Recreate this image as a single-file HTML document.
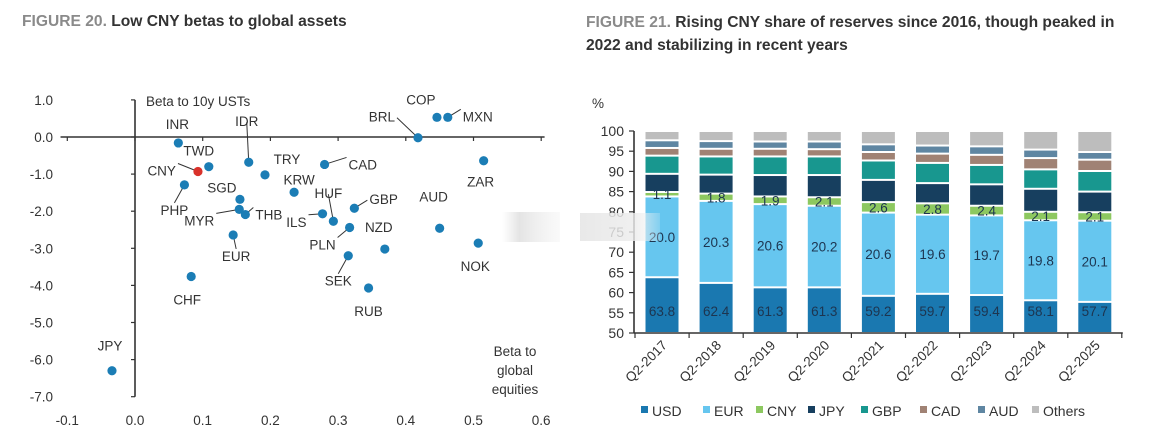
<!DOCTYPE html>
<html><head><meta charset="utf-8"><style>
html,body{margin:0;padding:0;background:#fff;}
svg{display:block;font-family:"Liberation Sans",sans-serif;}
</style></head><body>
<svg id="root" width="1170" height="446" viewBox="0 0 1170 446">
<defs>
<linearGradient id="blur1" x1="0" x2="1"><stop offset="0" stop-color="#e8e8e8" stop-opacity="0"/><stop offset="0.3" stop-color="#e4e4e4"/><stop offset="1" stop-color="#f2f2f2" stop-opacity="0.4"/></linearGradient>
<linearGradient id="blur2" x1="0" x2="1"><stop offset="0" stop-color="#e6e6e6" stop-opacity="0.9"/><stop offset="0.7" stop-color="#ececec" stop-opacity="0.8"/><stop offset="1" stop-color="#f4f4f4" stop-opacity="0.2"/></linearGradient>
</defs>
<text x="22" y="26" font-size="15.6" font-weight="bold"><tspan fill="#8a8a8a">FIGURE 20.</tspan><tspan fill="#333"> Low CNY betas to global assets</tspan></text>
<text x="586" y="27" font-size="15.6" font-weight="bold"><tspan fill="#8a8a8a">FIGURE 21.</tspan><tspan fill="#333"> Rising CNY share of reserves since 2016, though peaked in</tspan></text>
<text x="586" y="50" font-size="15.6" font-weight="bold" fill="#333">2022 and stabilizing in recent years</text>
<g id="scatter"></g>
<g id="bars"></g>
<rect x="502" y="212" width="58" height="30" fill="url(#blur1)"/>
<rect x="580" y="213" width="80" height="28" fill="url(#blur2)"/>
</svg>
<script>
// ---- Scatter data ----
const codes = ["INR","TWD","CNY","PHP","IDR","TRY","SGD","MYR","THB","EUR","CHF","JPY","KRW","CAD","HUF","ILS","GBP","PLN","SEK","NZD","RUB","BRL","COP","MXN","ZAR","AUD","NOK"];
const betaEq = [0.064,0.109,0.093,0.073,0.168,0.192,0.155,0.154,0.163,0.145,0.083,-0.034,0.235,0.280,0.293,0.277,0.324,0.317,0.315,0.369,0.345,0.418,0.446,0.462,0.515,0.450,0.507];
const betaUst = [-0.16,-0.80,-0.93,-1.29,-0.68,-1.02,-1.68,-1.95,-2.09,-2.64,-3.76,-6.30,-1.49,-0.74,-2.27,-2.07,-1.92,-2.44,-3.20,-3.02,-4.07,-0.02,0.53,0.53,-0.64,-2.46,-2.86];
const xTicks = [-0.1,0,0.1,0.2,0.3,0.4,0.5,0.6];
const yTicks = [1,0,-1,-2,-3,-4,-5,-6,-7];
const labelPos = {
 INR:[-1,-14,"middle",0],TWD:[-10,-11,"middle",0],CNY:[-22,4,"end",1],PHP:[-10,30,"middle",1],
 IDR:[-2,-36,"middle",1],TRY:[22,-11,"middle",0],SGD:[-18,-7,"middle",0],MYR:[-25,16,"end",1],
 THB:[10,5,"start",1],EUR:[3,26,"middle",1],CHF:[-4,28,"middle",0],JPY:[-2,-20,"middle",0],
 KRW:[5,-8,"middle",0],CAD:[24,5,"start",1],HUF:[-5,-23,"middle",1],ILS:[-16,13,"end",1],
 GBP:[15,-4,"start",1],PLN:[-14,22,"end",1],SEK:[-10,30,"middle",1],NZD:[-6,-17,"middle",0],
 RUB:[0,28,"middle",0],BRL:[-23,-16,"end",1],COP:[-16,-13,"middle",0],MXN:[15,4,"start",1],
 ZAR:[-3,26,"middle",0],AUD:[-6,-27,"middle",0],NOK:[-3,28,"middle",0]};
const NS="http://www.w3.org/2000/svg";
function mk(tag,attrs,parent){const e=document.createElementNS(NS,tag);for(const k in attrs)e.setAttribute(k,attrs[k]);parent.appendChild(e);return e;}
const sx = v => 135 + v*677;
const sy = v => 137 - v*37.1;
const sc = document.getElementById('scatter');
let ax = mk('line',{x1:sx(-0.11),x2:sx(0.605),y1:sy(0),y2:sy(0),stroke:'#333','stroke-width':1.6},sc);


let ay = mk('line',{x1:sx(0),x2:sx(0),y1:sy(1),y2:sy(-7),stroke:'#333','stroke-width':1.6},sc);


xTicks.forEach(t=>{
 const tk=mk('line',{x1:sx(t),x2:sx(t),y1:sy(0),y2:sy(0)+4,stroke:'#333','stroke-width':1.2},sc);
 
 
 const tl=mk('text',{x:sx(t),y:425,'font-size':13.5,'text-anchor':'middle',fill:'#333'},sc);
 tl.textContent=t.toFixed(1);
 
 
});
yTicks.forEach(t=>{
 const tk=mk('line',{x1:sx(0)-4,x2:sx(0),y1:sy(t),y2:sy(t),stroke:'#333','stroke-width':1.2},sc);
 
 
 const tl=mk('text',{x:53,y:sy(t)+5,'font-size':13.5,'text-anchor':'end',fill:'#333'},sc);
 tl.textContent=t.toFixed(1);
 
 
});
let t1=mk('text',{x:146,y:106,'font-size':13.5,fill:'#333'},sc);t1.textContent='Beta to 10y USTs';


['Beta to','global','equities'].forEach((s,i)=>{
 const t=mk('text',{x:515,y:356+i*19,'font-size':13.5,'text-anchor':'middle',fill:'#333'},sc);t.textContent=s;
 
 
});
codes.forEach((c,i)=>{
 const px=sx(betaEq[i]),py=sy(betaUst[i]);
 const p=labelPos[c];
 const lx=px+p[0],ly=py+p[1];
 if(p[3]){
  const ll=mk('line',{x1:px,y1:py,x2:lx+(p[2]==='end'?2:p[2]==='start'?-2:0),y2:ly+(p[1]>0?-12:-4),stroke:'#333','stroke-width':1},sc);
  
  
 }
 const d=mk('circle',{cx:px,cy:py,r:4.6,fill:c==='CNY'?'#d9322b':'#1b7db5'},sc);
 
 
 const t=mk('text',{x:lx,y:ly,'font-size':13.5,'text-anchor':p[2],fill:'#333'},sc);
 t.textContent=c;
 
 
});

// ---- Stacked bar data ----
const years = ["Q2-2017","Q2-2018","Q2-2019","Q2-2020","Q2-2021","Q2-2022","Q2-2023","Q2-2024","Q2-2025"];
const usd = [63.8,62.4,61.3,61.3,59.2,59.7,59.4,58.1,57.7];
const eur = [20.0,20.3,20.6,20.2,20.6,19.6,19.7,19.8,20.1];
const cny = [1.1,1.8,1.9,2.1,2.6,2.8,2.4,2.1,2.1];
const jpy = [4.5,4.7,5.3,5.5,5.5,5.0,5.3,5.7,5.1];
const gbp = [4.5,4.5,4.6,4.6,4.8,5.0,4.8,4.8,5.1];
const cad = [1.9,1.9,1.9,1.8,2.1,2.3,2.5,2.8,2.8];
const aud = [1.9,1.9,1.8,1.9,1.9,2.0,2.1,2.1,1.9];
const others = [2.3,2.5,2.6,2.6,3.3,3.6,3.8,4.6,5.2];
const seriesNames = ["USD","EUR","CNY","JPY","GBP","CAD","AUD","Others"];
const barTicks = [50,55,60,65,70,75,80,85,90,95,100];
const series=[usd,eur,cny,jpy,gbp,cad,aud,others];
const colors=['#1a78b0','#66c6ef','#8dc860','#173f5f','#18978f','#a08274','#5f86a2','#bdbdbd'];
const bx = i => 662 + i*54.1;
const by = v => 333 - (v-50)*4.04;
const bg=document.getElementById('bars');
let pct=mk('text',{x:592,y:108,'font-size':13.5,fill:'#333'},bg);pct.textContent='%';


barTicks.forEach(t=>{
 const tl=mk('text',{x:624,y:by(t)+5,'font-size':14,'text-anchor':'end',fill:'#333'},bg);
 tl.textContent=t;
 
 
 const tk=mk('line',{x1:629,x2:634,y1:by(t),y2:by(t),stroke:'#333','stroke-width':1.2},bg);
 
 
});
years.forEach((y,i)=>{
 let base=0;
 series.forEach((s,k)=>{
  const v=s[i];
  const lo=Math.max(base,50), hi=Math.min(base+v,100);
  base+=v;
  if(hi<=50)return;
  const top=by(hi), bot=by(lo);
  const r=mk('rect',{x:bx(i)-16.5,y:top+1,width:33,height:Math.max(bot-top-2,0.5),fill:colors[k]},bg);
  
  
  if(k<3){
   const ty = k===0 ? by(55.5)+5 : (top+bot)/2+5;
   const t=mk('text',{x:bx(i),y:ty,'font-size':13.5,'text-anchor':'middle',fill:'#1d3550'},bg);
   t.textContent=v.toFixed(1);
   
   
  }
 });
 const tk=mk('line',{x1:bx(i)-27,x2:bx(i)-27,y1:333,y2:338,stroke:'#333','stroke-width':1.2},bg);
 
 
 const xl=mk('text',{x:bx(i)+6,y:346,'font-size':13.5,'text-anchor':'end',fill:'#333',transform:`rotate(-45 ${bx(i)+6} 346)`},bg);
 xl.textContent=y;
 
 
});
let lt=mk('line',{x1:bx(8)+27,x2:bx(8)+27,y1:333,y2:338,stroke:'#333','stroke-width':1.2},bg);


let bxa=mk('line',{x1:634,x2:bx(8)+28,y1:333,y2:333,stroke:'#333','stroke-width':1.6},bg);


let bya=mk('line',{x1:634,x2:634,y1:by(100),y2:333,stroke:'#333','stroke-width':1.6},bg);


const legX=[641,703,756,808,861,920,978,1032];
seriesNames.forEach((n,k)=>{
 const g=mk('g',{},bg);
 
 
 mk('rect',{x:legX[k],y:406,width:7,height:7,fill:colors[k]},g);
 const t=mk('text',{x:legX[k]+11,y:416,'font-size':14,fill:'#333'},g);t.textContent=n;
});
</script>
</body></html>
